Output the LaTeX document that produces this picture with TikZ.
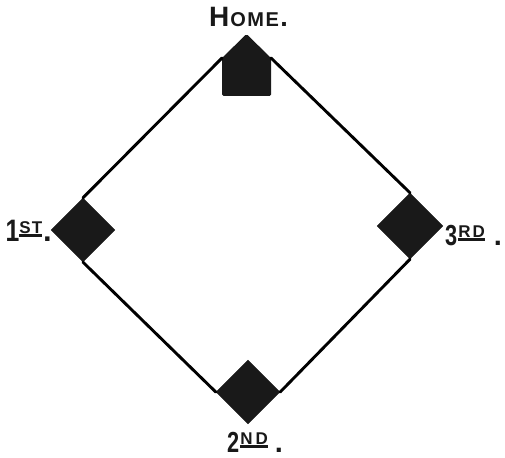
\documentclass[tikz,border=0pt]{standalone}
\usepackage{fontspec}
\setmainfont{Liberation Sans}
\usetikzlibrary{shapes.geometric}
\newcommand\supul[1]{\setbox0\hbox{\fontsize{17}{17}\selectfont\bfseries #1}\raisebox{8pt}{\copy0}\kern-\wd0\rule[4pt]{\wd0}{2.8pt}}
\tikzset{
  field/.style={line width=2.9pt, line cap=round, line join=round, black},
  basebag/.style={diamond, fill=black!90, draw=black!90, line join=round, inner sep=0pt, minimum width=#1, minimum height=#1, aspect=1},
  lbl/.style={inner sep=0pt, font=\bfseries, text=black!90}
}
\begin{document}
\begin{tikzpicture}[x=1pt,y=-1pt]
\useasboundingbox (0,0) rectangle (505,457);
% bases
\node[basebag=64pt] (first) at (83,230) {};
\node[basebag=64pt] (second) at (248,392) {};
\node[basebag=66pt] (third) at (410,226) {};
\coordinate (apex) at (246.5,34);
\coordinate (hr) at (271,58);
\coordinate (hl) at (222,58);
\coordinate (hbr) at (271,96);
\coordinate (hbl) at (222,96);
\fill[black!90, rounded corners=1.5pt] (apex) -- (hr) -- (hbr) -- (hbl) -- (hl) -- cycle;
% base lines
\draw[field] (hl) -- (first.north);
\draw[field] (first.south) -- (second.west);
\draw[field] (second.east) -- (third.south);
\draw[field] (third.north) -- (hr);
% labels
\node[lbl, anchor=base west] (homelbl) at (209,27) {\fontsize{28}{28}\selectfont H\kern1pt\fontsize{20}{20}\selectfont O\kern1.5pt M\kern1.5pt E\kern1.5pt\fontsize{27}{27}\selectfont .};
\node[lbl, anchor=base east] (firstlbl) at (52,241) {\fontsize{31}{31}\selectfont\scalebox{0.8}[1]{1}\supul{S\kern1pt T}\kern1pt.};
\node[lbl, anchor=base west] (thirdlbl) at (445,245) {\fontsize{29}{29}\selectfont\scalebox{0.75}[1]{3}\kern1pt\supul{R\kern2pt D}\kern9pt.};
\node[lbl, anchor=base west] (secondlbl) at (227,452) {\fontsize{29}{29}\selectfont\scalebox{0.75}[1]{2}\kern1pt\supul{N\kern3pt D}\kern7pt.};
\end{tikzpicture}
\end{document}
